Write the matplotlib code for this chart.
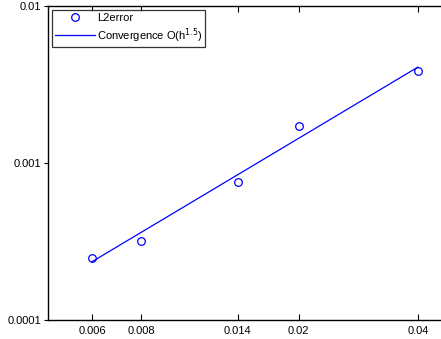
import numpy as np
import matplotlib.pyplot as plt

plt.rcParams['font.family'] = ['Liberation Sans', 'DejaVu Sans']

# mesh sizes and measured L2 errors
h = [0.006, 0.008, 0.014, 0.02, 0.04]
l2err = [2.47e-4, 3.19e-4, 7.54e-4, 1.73e-3, 3.85e-3]

# reference convergence line O(h^1.5), end points
h_line = [0.006, 0.04]
conv = [2.35e-4, 4.08e-3]

xticks = [0.006, 0.008, 0.014, 0.02, 0.04]
xticklabels = ['0.006', '0.008', '0.014', '0.02', '0.04']
yticks = [1e-4, 1e-3, 1e-2]
yticklabels = ['0.0001', '0.001', '0.01']

fig = plt.figure(figsize=(4.41, 3.39), dpi=100)
ax = fig.add_axes([48/441, 19/339, 410/441, 314/339])

ax.loglog(h, l2err, 'o', color='blue', mfc='none', ms=5.5, mew=0.9, label='L2error')
ax.loglog(h_line, conv, '-', color='blue', lw=0.9, label='Convergence O(h$^{1.5}$)')

ax.set_xlim(0.004645, 0.05053)
ax.set_ylim(1e-4, 1e-2)
ax.set_xticks(xticks)
ax.set_xticklabels(xticklabels)
ax.set_yticks(yticks)
ax.set_yticklabels(yticklabels)
ax.minorticks_off()
ax.tick_params(axis='x', direction='in', top=True, labelsize=8, length=4, width=0.8, pad=4)
ax.tick_params(axis='y', direction='out', right=False, labelsize=8, length=3, width=0.8, pad=2)
ax.spines['right'].set_visible(False)
for s in ax.spines.values():
    s.set_linewidth(1.0)

leg = ax.legend(loc='upper left', fontsize=8, frameon=True, fancybox=False,
                edgecolor='black', borderaxespad=0.4, handlelength=3.6,
                handletextpad=0.25, borderpad=0.2, labelspacing=0.3)
leg.get_frame().set_linewidth(0.9)

fig.savefig('out.png', dpi=100)
